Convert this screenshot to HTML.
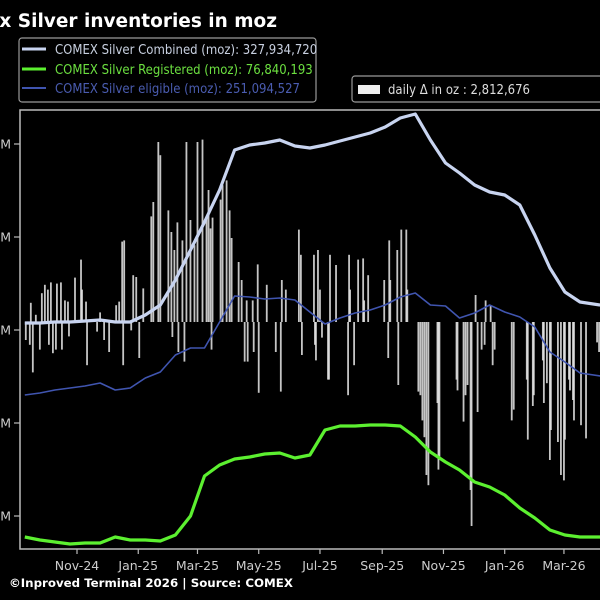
<!DOCTYPE html>
<html><head><meta charset="utf-8">
<style>
html,body{margin:0;padding:0;background:#000;}
svg{display:block;font-family:"DejaVu Sans","Liberation Sans",sans-serif;}
.cond{font-family:"DejaVu Sans Condensed","DejaVu Sans","Liberation Sans",sans-serif;}
</style></head>
<body>
<svg id="chart" width="600" height="600" viewBox="0 0 600 600">
  <rect x="0" y="0" width="600" height="600" fill="#000"/>
  <text x="277" y="27" text-anchor="end" fill="#fff" font-size="18.5" font-weight="bold">Comex Silver inventories in moz</text>
  <g>
    <rect x="19" y="38" width="297" height="64" rx="3" fill="#000" stroke="#999" stroke-width="1.2"/>
    <line x1="22" y1="49" x2="46" y2="49" stroke="#c8d4f0" stroke-width="3"/>
    <text class="cond" x="55" y="54" fill="#c8d0e0" font-size="13">COMEX Silver Combined (moz): 327,934,720</text>
    <line x1="22" y1="69" x2="46" y2="69" stroke="#5cf030" stroke-width="3"/>
    <text class="cond" x="55" y="74" fill="#6ce040" font-size="13">COMEX Silver Registered (moz): 76,840,193</text>
    <line x1="22" y1="88" x2="46" y2="88" stroke="#4055b0" stroke-width="2"/>
    <text class="cond" x="55" y="93" fill="#4a5cb0" font-size="13">COMEX Silver eligible (moz): 251,094,527</text>
  </g>
  <g>
    <rect x="352" y="76" width="260" height="26" rx="3" fill="#000" stroke="#999" stroke-width="1.2"/>
    <rect x="358" y="85" width="22" height="9" fill="#eee"/>
    <text class="cond" x="388" y="94" fill="#ddd" font-size="13">daily Δ in oz : 2,812,676</text>
  </g>
  <g id="plot"></g>
  <text x="9" y="587" fill="#fff" font-size="11.8" font-weight="bold">©Inproved Terminal 2026 | Source: COMEX</text>
</svg>
<script>
// line data: days since 2024-11-01
const lineDays = [-52,-37,-22,-7,8,23,38,53,68,83,98,113,127,142,157,172,187,202,217,232,247,262,277,292,307,322,337,352,367,381,396,411,426,441,456,471,486,501,521];
const combined = [307.5,307.5,308.6,308.6,309.7,310.8,308.6,308.6,316.1,326.9,353.8,386,416.1,450.5,493.5,498.9,501.1,504.3,497.8,495.7,498.9,503.2,507.5,511.8,518.3,528,532.3,504.3,479.6,468.8,455.9,448.4,445.2,434.4,402.2,366.7,340.9,330.1,326.9];
const eligible = [230.1,232.3,235.5,237.6,239.8,243,235.5,237.6,248.4,254.8,273.1,280.6,280.6,308.6,336.6,335.5,333.3,334.4,332.3,319.4,306.5,312.9,318.3,321.5,326.9,335.5,339.8,326.9,325.8,312.9,318.3,326.9,319.4,314,303.2,276.3,265.6,253.8,250.5];
const registered = [77.4,74.2,72,69.9,71,71,77.4,74.2,74.2,73.1,79.6,100,143,154.8,161.3,163.4,166.7,167.7,162.4,165.6,192.5,196.8,196.8,197.8,197.8,196.8,184.9,168.8,158.1,149.5,136.6,131.2,122.6,108.6,97.8,84.9,79.6,77.4,77.4];
const yTicks = [100,200,300,400,500];
const yTickLabels = ["100M","200M","300M","400M","500M"];
const xTickDays = [0,61,120,181,242,304,365,426,485];
const xTickLabels = ["Nov-24","Jan-25","Mar-25","May-25","Jul-25","Sep-25","Nov-25","Jan-26","Mar-26"];
// daily change bars (M oz)
const barDays = [-46,-41,-35,-32,-29,-26,-20,-16,-12,-9,-2,4,5,9,23,39,42,45,47,56,59,66,74,76,81,83,91,94,97,100,105,109,113,117,120,125,129,131,133,135,143,145,149,152,154,161,164,169,175,180,189,204,208,221,223,236,240,242,252,258,271,272,280,285,286,290,306,311,312,319,323,328,329,397,407,412,
 -51,-47,-44,-37,-28,-24,-21,-15,-8,10,20,27,32,46,54,62,95,101,107,134,167,170,176,181,198,203,224,237,238,244,250,251,270,276,310,320,340,342,344,346,348,350,359,360,361,378,379,385,387,389,392,393,399,403,406,414,416,433,435,448,449,454,455,464,465,468,471,472,479,482,485,486,490,491,494,495,502,507,518,520];
const barValues = [1.6,0.6,2.4,3.1,2.7,3.3,3.2,3.3,1.8,1.7,3.7,5.2,2.7,1.7,0.8,1.4,1.7,6.7,6.8,3.9,3.75,2.8,8.8,10,15,13.9,9.3,7.5,6,8.3,6.8,15,8.5,6.4,15,15.2,8.7,11,7.8,8.7,10.2,11.4,11.8,9.3,7,5,3.5,1.8,1.8,4.8,3.1,3.5,2.7,7.7,5.6,5.6,6,2.7,5.6,4.75,5.6,2.7,5.2,5.3,1.8,3.9,3.5,6.8,3.5,6,7.7,7.7,2.7,2.25,1.8,1.4,
 -1.5,-1.9,-4.2,-2.3,-1.9,-2.6,-2.3,-2.3,-1.2,-3.6,-0.8,-1.5,-2.5,-3.6,-0.7,-3,-1.25,-2.5,-3.3,-2.3,-3.3,-3.3,-2.5,-5.9,-2.5,-5.8,-2.75,-1.9,-3.2,-1.3,-4.8,-4.8,-6.1,-3.6,-3,-5.25,-5.8,-6.1,-8.2,-9.6,-12.75,-13.6,-6.75,-12.3,-11.5,-4.8,-5.7,-8.3,-6.1,-5.25,-14,-17,-7.5,-2.3,-1.9,-3.6,-2.3,-8.2,-7.3,-4.8,-9.8,-7,-6.1,-3.2,-6.75,-5.1,-11.5,-9,-10,-12.75,-13.2,-9.8,-4.8,-5.7,-6.5,-8.2,-8.6,-9.7,-1.7,-2.5];

const NS = "http://www.w3.org/2000/svg";
const plot = document.getElementById("plot");
const X0 = 77, XK = 1.004;
function xScale(d){ return X0 + d * XK; }
function yScale(v){ return 609 - 0.93 * v; }
const BAR0 = 322, BARK = 12;
function barY(v){ return BAR0 - v * BARK; }
function mk(tag, attrs){ const e = document.createElementNS(NS, tag); for (const k in attrs) e.setAttribute(k, attrs[k]); return e; }

const frame = mk("rect", {x:20, y:110, width:600, height:439, fill:"none", stroke:"#bbb", "stroke-width":1.5});


plot.appendChild(frame);

yTicks.forEach((v, i) => {
  const y = yScale(v);
  const t = mk("line", {x1:14, y1:y, x2:20, y2:y, stroke:"#bbb", "stroke-width":1.2});
  
  
  plot.appendChild(t);
  const l = mk("text", {x:11, y:y+4.5, "text-anchor":"end", fill:"#ccc", "font-size":12.5});
  l.textContent = yTickLabels[i];
  
  
  plot.appendChild(l);
});
xTickDays.forEach((d, i) => {
  const x = xScale(d);
  const t = mk("line", {x1:x, y1:549, x2:x, y2:554, stroke:"#bbb", "stroke-width":1.2});
  
  
  plot.appendChild(t);
  const l = mk("text", {x:x, y:570, "text-anchor":"middle", fill:"#ccc", "font-size":12.5});
  l.textContent = xTickLabels[i];
  
  
  plot.appendChild(l);
});

barDays.forEach((d, i) => {
  const v = barValues[i];
  const y = v >= 0 ? barY(v) : BAR0;
  const h = Math.abs(barY(v) - BAR0);
  const b = mk("rect", {x:xScale(d)-0.9, y:y, width:1.8, height:h, fill:"#e8e8e8", opacity:0.85});
  
  
  plot.appendChild(b);
});

function drawLine(vals, color, w, name){
  const pts = lineDays.map((d, i) => xScale(d).toFixed(1) + "," + yScale(vals[i]).toFixed(1)).join(" ");
  const p = mk("polyline", {points:pts, fill:"none", stroke:color, "stroke-width":w, "stroke-linejoin":"round"});
  
  
  plot.appendChild(p);
}
drawLine(eligible, "#4055b0", 1.6, "eligible-line");
drawLine(registered, "#5cf030", 3.2, "registered-line");
drawLine(combined, "#c8d4f0", 3.2, "combined-line");
</script>
</body></html>
